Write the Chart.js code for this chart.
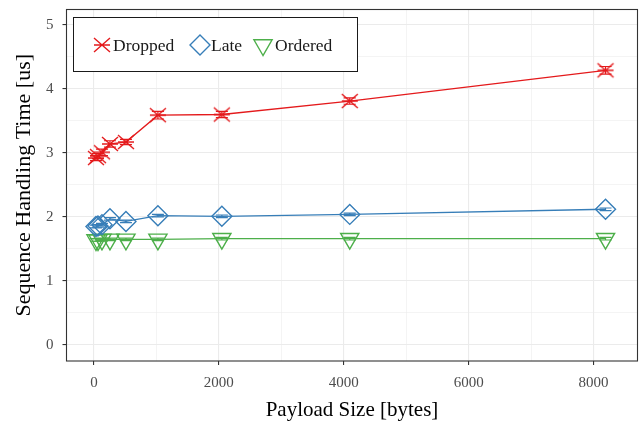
<!DOCTYPE html>
<html>
<head>
<meta charset="utf-8">
<script src="https://cdn.jsdelivr.net/npm/chart.js@4/dist/chart.umd.min.js"></script>
<style>
  html, body { margin: 0; padding: 0; background: #fff; overflow: hidden; }
  #wrap { width: 641px; height: 423px; }
  canvas { display: block; }
</style>
</head>
<body>
<div id="wrap"><canvas id="chart" width="641" height="423"></canvas></div>
<script>
// payload sizes (bytes) and mean handling times (us)
const payloadSizes = [32, 64, 128, 256, 512, 1024, 2048, 4096, 8192];
const droppedTimes = [2.92, 2.95, 3.01, 3.14, 3.17, 3.59, 3.60, 3.81, 4.29];
const lateTimes    = [1.85, 1.86, 1.88, 1.97, 1.93, 2.02, 2.01, 2.04, 2.12];
const orderedTimes = [1.64, 1.64, 1.65, 1.65, 1.65, 1.65, 1.66, 1.66, 1.66];
// half-width of the error bars (us)
const droppedErr = [0.04, 0.04, 0.05, 0.05, 0.04, 0.06, 0.05, 0.05, 0.06];
const lateErr    = [0.02, 0.02, 0.02, 0.02, 0.02, 0.02, 0.02, 0.02, 0.02];
const orderedErr = [0.02, 0.02, 0.02, 0.02, 0.02, 0.02, 0.02, 0.02, 0.02];
const xMajorTicks = [0, 2000, 4000, 6000, 8000];
const yMajorTicks = [0, 1, 2, 3, 4, 5];

const RED = '#e41a1c', BLUE = '#377eb8', GREEN = '#4daf4a';
const SERIF = '"Liberation Serif", "DejaVu Serif", serif';

// X with a horizontal bar through it
function crossMarker(color) {
  const c = document.createElement('canvas');
  c.width = 20; c.height = 20;
  const g = c.getContext('2d');
  g.strokeStyle = color;
  g.lineWidth = 1.4;
  g.beginPath();
  g.moveTo(2, 3); g.lineTo(18, 17);
  g.moveTo(18, 3); g.lineTo(2, 17);
  g.moveTo(2, 10); g.lineTo(18, 10);
  g.stroke();
  return c;
}
const redMarker = crossMarker(RED);

const toPoints = ys => payloadSizes.map((x, i) => ({ x: x, y: ys[i] }));

const series = [
  { label: 'Dropped', data: toPoints(droppedTimes), err: droppedErr, color: RED,
    pointStyle: redMarker, pointRadius: 8, pointRotation: 0 },
  { label: 'Late', data: toPoints(lateTimes), err: lateErr, color: BLUE,
    pointStyle: 'rectRot', pointRadius: 10, pointRotation: 0 },
  { label: 'Ordered', data: toPoints(orderedTimes), err: orderedErr, color: GREEN,
    pointStyle: 'triangle', pointRadius: 10.5, pointRotation: 180 }
];

// error bars under the markers
const errorBars = {
  id: 'errorBars',
  beforeDatasetsDraw(chart) {
    const { ctx, scales: { x, y } } = chart;
    ctx.save();
    ctx.lineWidth = 1.2;
    series.forEach(s => {
      ctx.strokeStyle = s.color;
      s.data.forEach((p, i) => {
        const px = x.getPixelForValue(p.x);
        const top = y.getPixelForValue(p.y + s.err[i]);
        const bot = y.getPixelForValue(p.y - s.err[i]);
        ctx.beginPath();
        ctx.moveTo(px, top); ctx.lineTo(px, bot);
        ctx.moveTo(px - 6, top); ctx.lineTo(px + 6, top);
        ctx.moveTo(px - 6, bot); ctx.lineTo(px + 6, bot);
        ctx.stroke();
      });
    });
    ctx.restore();
  }
};

// panel border and legend box
const panel = {
  id: 'panel',
  afterDraw(chart) {
    const { ctx, chartArea: a } = chart;
    ctx.save();
    ctx.strokeStyle = '#333333';
    ctx.lineWidth = 1.1;
    ctx.strokeRect(a.left, a.top, a.right - a.left, a.bottom - a.top);

    // legend
    ctx.fillStyle = '#fff';
    ctx.fillRect(73.5, 17.5, 284, 54);
    ctx.strokeStyle = '#1a1a1a';
    ctx.lineWidth = 1;
    ctx.strokeRect(73.5, 17.5, 284, 54);
    const ly = 45;
    const items = [
      { s: series[0], mx: 102, tx: 113 },
      { s: series[1], mx: 200, tx: 211 },
      { s: series[2], mx: 263, tx: 275 }
    ];
    ctx.font = '17.5px ' + SERIF;
    ctx.textBaseline = 'middle';
    ctx.textAlign = 'left';
    items.forEach(it => {
      ctx.strokeStyle = it.s.color;
      ctx.fillStyle = 'rgba(0,0,0,0)';
      ctx.lineWidth = 1.4;
      Chart.helpers.drawPoint(ctx, {
        pointStyle: it.s.pointStyle, radius: it.s.pointRadius,
        rotation: it.s.pointRotation, borderWidth: 1.4
      }, it.mx, ly);
      ctx.fillStyle = '#1a1a1a';
      ctx.fillText(it.s.label, it.tx, ly + 1);
    });
    ctx.restore();
  }
};

new Chart(document.getElementById('chart'), {
  type: 'line',
  data: {
    datasets: series.map(s => ({
      label: s.label,
      data: s.data,
      borderColor: s.color,
      backgroundColor: 'rgba(0,0,0,0)',
      borderWidth: 1.3,
      pointStyle: s.pointStyle,
      pointRadius: s.pointRadius,
      pointRotation: s.pointRotation,
      pointBorderWidth: 1.4,
      pointBorderColor: s.color,
      pointBackgroundColor: 'rgba(0,0,0,0)',
      tension: 0,
      fill: false
    }))
  },
  options: {
    responsive: false,
    animation: false,
    layout: { autoPadding: false, padding: { left: 0, right: 3.5, top: 9.5, bottom: 0 } },
    plugins: { legend: { display: false }, tooltip: { enabled: false } },
    scales: {
      x: {
        type: 'linear',
        min: -440, max: 8704,
        afterBuildTicks: sc => {
          sc.ticks = [0, 1000, 2000, 3000, 4000, 5000, 6000, 7000, 8000].map(v => ({ value: v }));
        },
        afterFit: sc => { sc.height = 62; sc.paddingLeft = 0; sc.paddingRight = 0; },
        border: { display: false },
        grid: {
          color: '#ebebeb',
          lineWidth: c => xMajorTicks.includes(c.tick.value) ? 1.1 : 0.55,
          tickColor: c => xMajorTicks.includes(c.tick.value) ? '#333333' : 'rgba(0,0,0,0)',
          tickLength: 4,
          tickWidth: 1.1
        },
        ticks: {
          autoSkip: false,
          maxRotation: 0,
          padding: 9,
          color: '#4d4d4d',
          font: { family: SERIF, size: 15 },
          callback: v => xMajorTicks.includes(v) ? String(v) : ''
        },
        title: {
          display: true,
          text: 'Payload Size [bytes]',
          color: '#000',
          font: { family: SERIF, size: 21 },
          padding: { top: 0, bottom: 0 }
        }
      },
      y: {
        type: 'linear',
        min: -0.25, max: 5.24,
        afterBuildTicks: sc => {
          sc.ticks = [0, 0.5, 1, 1.5, 2, 2.5, 3, 3.5, 4, 4.5, 5].map(v => ({ value: v }));
        },
        afterFit: sc => { sc.width = 66.5; sc.paddingTop = 0; sc.paddingBottom = 0; },
        border: { display: false },
        grid: {
          color: '#ebebeb',
          lineWidth: c => yMajorTicks.includes(c.tick.value) ? 1.1 : 0.55,
          tickColor: c => yMajorTicks.includes(c.tick.value) ? '#333333' : 'rgba(0,0,0,0)',
          tickLength: 4,
          tickWidth: 1.1
        },
        ticks: {
          autoSkip: false,
          padding: 9,
          color: '#4d4d4d',
          font: { family: SERIF, size: 15 },
          callback: v => yMajorTicks.includes(v) ? String(v) : ''
        },
        title: {
          display: true,
          text: 'Sequence Handling Time [us]',
          color: '#000',
          font: { family: SERIF, size: 22 },
          padding: { top: 11, bottom: 0 }
        }
      }
    }
  },
  plugins: [errorBars, panel]
});
</script>
</body>
</html>
